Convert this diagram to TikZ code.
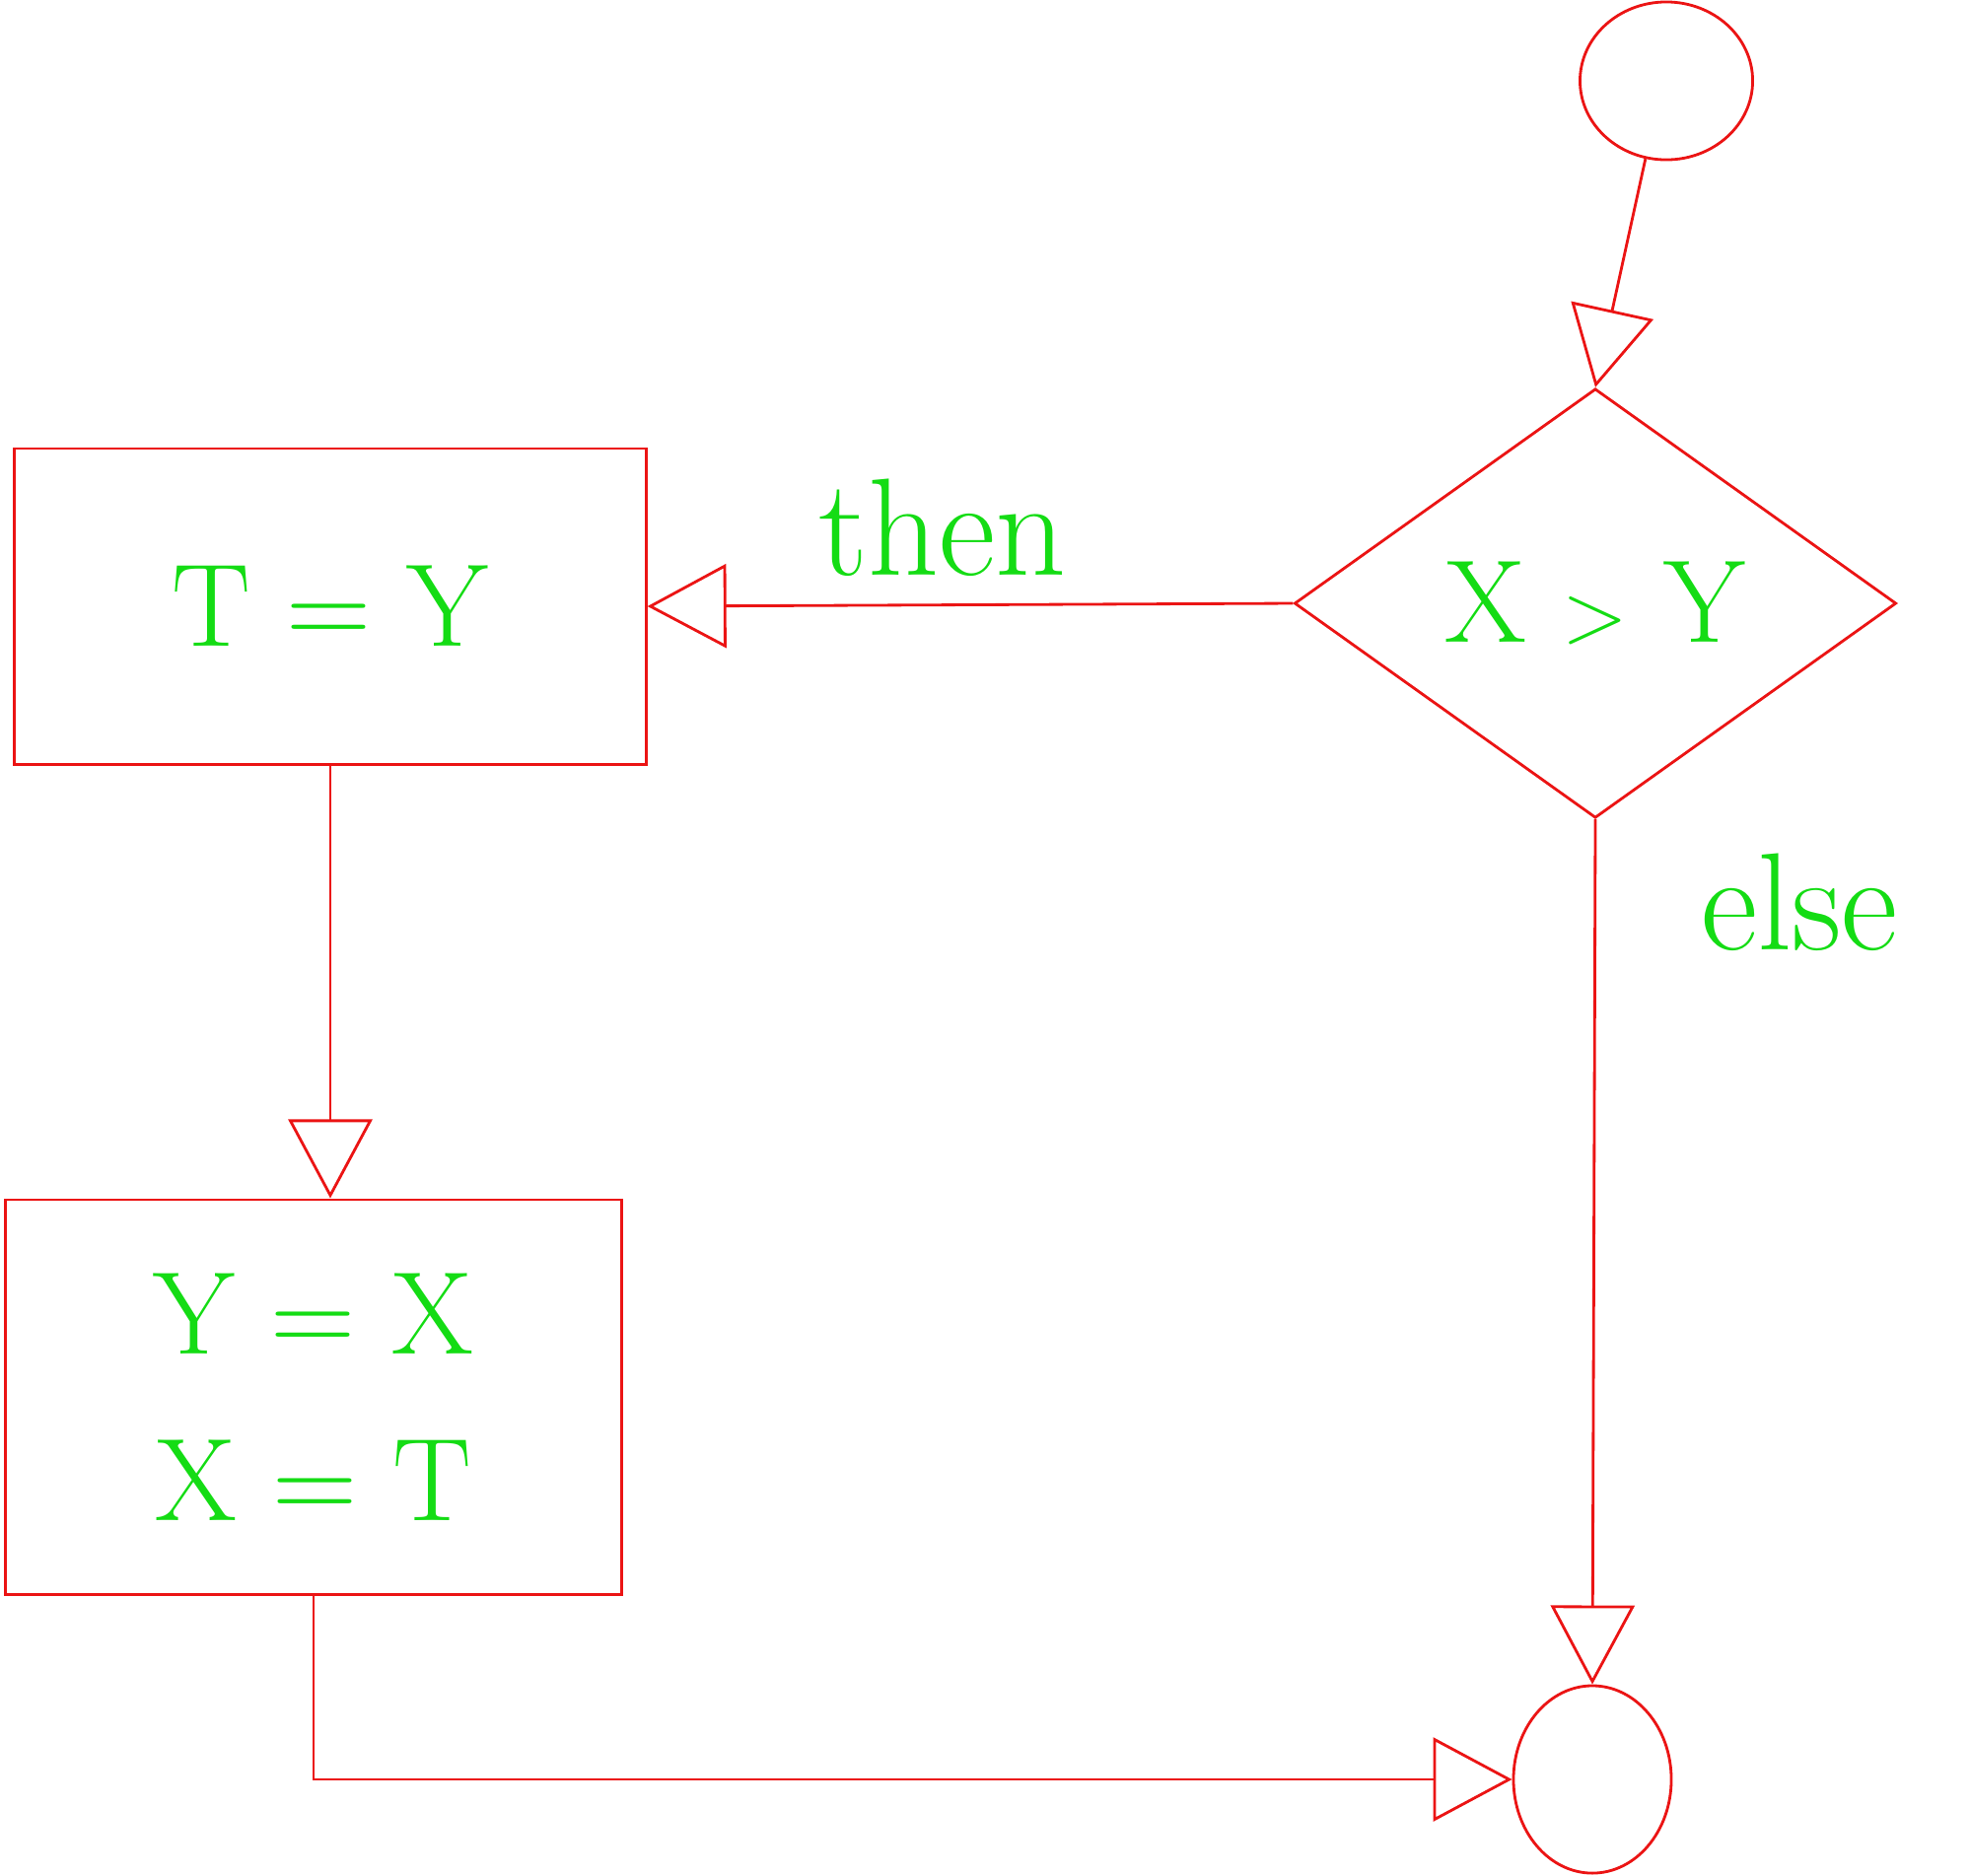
\documentclass[tikz,border=0pt]{standalone}
\definecolor{penred}{RGB}{235, 20, 20}
\definecolor{pengreen}{RGB}{20, 220, 20}
\usepackage{tikz}
\usetikzlibrary{shapes.geometric, arrows.meta, positioning}

\begin{document}
\begin{tikzpicture}[x=0.01cm, y=-0.01cm,
    line width=0.8pt,
    box/.style={draw=penred, rectangle, text=pengreen, align=center, font=\fontsize{34}{48}\selectfont},
    test/.style={draw=penred, diamond, text=pengreen, font=\fontsize{34}{40}\selectfont},
    term/.style={draw=penred, ellipse},
    flow/.style={draw=penred, -{Triangle[open, length=0.8cm, width=0.85cm]}},
    lbl/.style={text=pengreen, font=\fontsize{40}{48}\selectfont}]
  \useasboundingbox (0,0) rectangle (1998,1902);

  % Start and end
  \node[term, minimum width=1.75cm, minimum height=1.6cm] (start) at (1690,82) {};
  \node[term, minimum width=1.6cm, minimum height=1.9cm] (done) at (1615,1805) {};

  % Decision
  \node[test, minimum width=6.1cm, minimum height=3.95cm] (cmp) at (1618,612) {X $>$ Y};

  % Swap steps
  \node[box, minimum width=6.4cm, minimum height=3.2cm] (setT) at (335,615) {T = Y};
  \node[box, minimum width=6.25cm, minimum height=4cm] (setXY) at (318,1417) {Y = X\\X = T};

  % Branch labels
  \node[lbl] (thenLbl) at (956,535) {then};
  \node[lbl] (elseLbl) at (1825,915) {else};

  % Connectors
  \draw[flow] (start.255) -- (cmp.north);
  \draw[flow] (cmp.west) -- (setT.east);
  \draw[flow] (setT.south) -- (setT.south |- setXY.north);
  \draw[flow] (cmp.south) -- (done.north);
  \draw[flow] (setXY.south) |- (done.west);
\end{tikzpicture}
\end{document}
